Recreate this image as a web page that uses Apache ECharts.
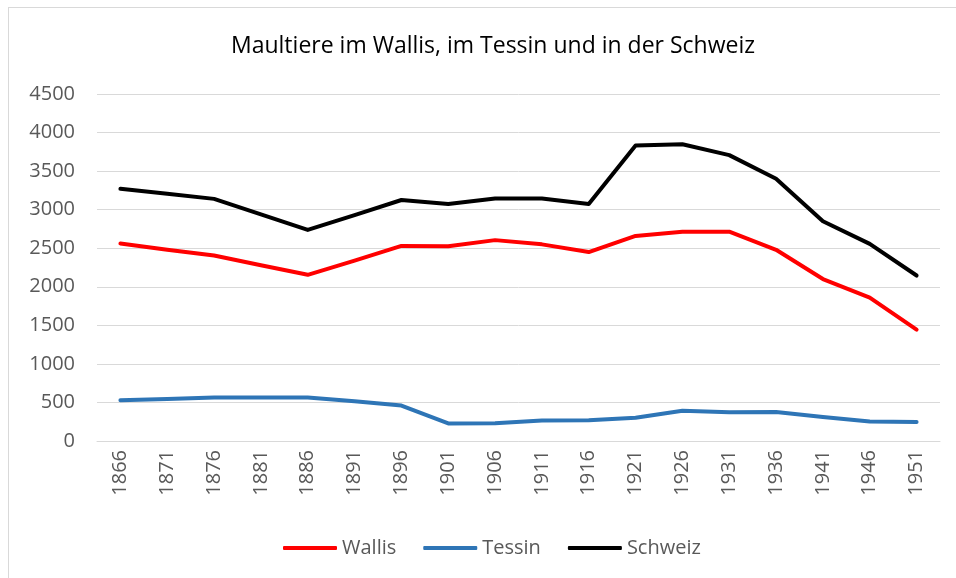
<!DOCTYPE html>
<html>
<head>
<meta charset="utf-8">
<script src="https://cdn.jsdelivr.net/npm/echarts@6/dist/echarts.min.js"></script>
<style>
  html, body { margin: 0; padding: 0; background: #fff; }
  #frame {
    position: absolute; left: 8px; top: 7px; width: 960px; height: 580px;
    border-top: 1px solid #d9d9d9; border-left: 1px solid #d9d9d9;
  }
  #chart { position: absolute; left: 0; top: 0; width: 956px; height: 578px; }
</style>
</head>
<body>
<div id="frame"></div>
<div id="chart"></div>
<script>
const years = ["1866", "1871", "1876", "1881", "1886", "1891", "1896", "1901", "1906",
  "1911", "1916", "1921", "1926", "1931", "1936", "1941", "1946", "1951"];
const wallis = [2560, 2480, 2405, 2280, 2155, 2340, 2530, 2525, 2605,
  2550, 2450, 2660, 2715, 2715, 2480, 2100, 1860, 1445];
const tessin = [530, 545, 565, 565, 565, 515, 460, 228, 230,
  265, 268, 302, 392, 372, 375, 312, 252, 246];
const schweiz = [3270, 3205, 3140, 2940, 2737, 2930, 3125, 3073, 3146,
  3146, 3073, 3831, 3849, 3707, 3400, 2850, 2556, 2146];
const yTicks = { min: 0, max: 4500, interval: 500 };

const labelFont = "'Open Sans', 'Noto Sans', sans-serif";

const chart = echarts.init(document.getElementById("chart"));

function line(name, data, color) {
  return {
    name,
    type: "line",
    data,
    symbol: "none",
    lineStyle: { color, width: 4, cap: "round", join: "round" },
    itemStyle: { color },
    animation: false,
  };
}

chart.setOption({
  backgroundColor: "transparent",
  title: {
    text: "Maultiere im Wallis, im Tessin und in der Schweiz",
    left: 488,
    textAlign: "center",
    top: 30,
    textStyle: {
      fontFamily: "'Liberation Sans Narrow', 'Open Sans', sans-serif",
      fontSize: 23,
      fontWeight: "normal",
      color: "#000",
    },
  },
  legend: {
    left: 278,
    top: 533,
    icon: "roundRect",
    itemWidth: 54,
    itemHeight: 4,
    itemGap: 27,
    itemStyle: { borderWidth: 0 },
    textStyle: { fontFamily: labelFont, fontSize: 20, color: "#595959", padding: [0, 0, 0, 0] },
    data: ["Wallis", "Tessin", "Schweiz"],
  },
  grid: { left: 97, right: 16, top: 94, bottom: 137 },
  xAxis: {
    type: "category",
    data: years,
    boundaryGap: true,
    axisLine: { lineStyle: { color: "#d9d9d9", width: 1 } },
    axisTick: { alignWithLabel: true, length: 5, lineStyle: { color: "#d9d9d9" } },
    axisLabel: {
      rotate: 90,
      margin: 9,
      interval: 0,
      fontFamily: labelFont,
      fontSize: 20,
      color: "#595959",
    },
  },
  yAxis: {
    type: "value",
    min: yTicks.min,
    max: yTicks.max,
    interval: yTicks.interval,
    axisLine: { show: false },
    axisTick: { show: false },
    splitLine: { lineStyle: { color: "#d9d9d9", width: 1 } },
    axisLabel: {
      margin: 22,
      fontFamily: labelFont,
      fontSize: 20,
      color: "#595959",
      formatter: (v) => String(v),
    },
  },
  series: [
    line("Wallis", wallis, "#ff0000"),
    line("Tessin", tessin, "#2e75b6"),
    line("Schweiz", schweiz, "#000000"),
  ],
});
</script>
</body>
</html>
